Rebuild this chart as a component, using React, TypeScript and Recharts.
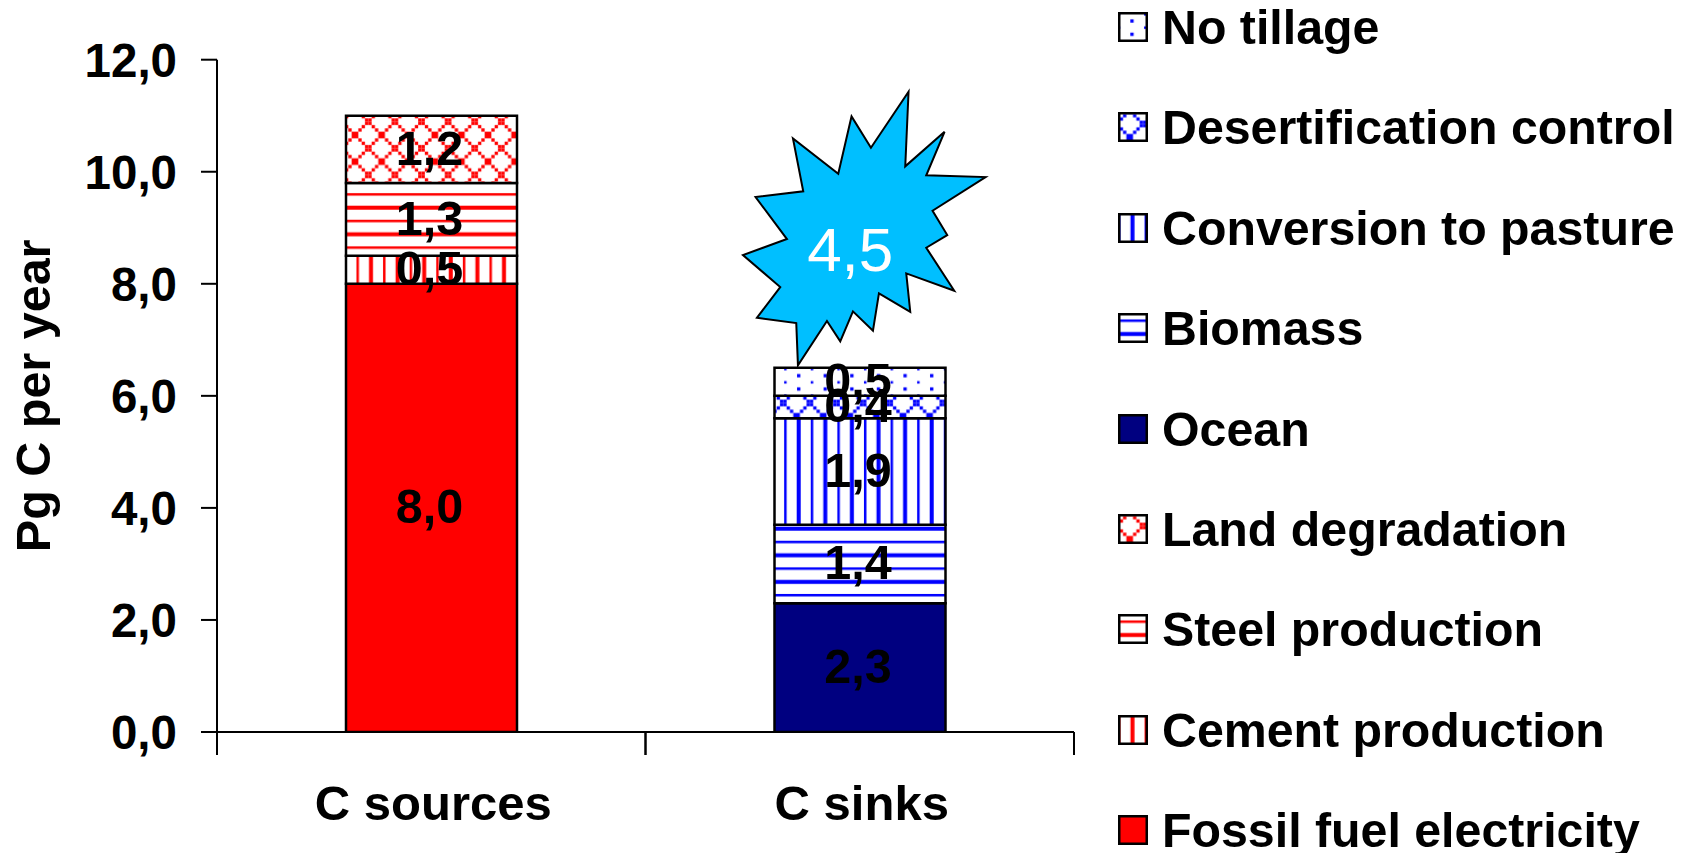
import React from 'react';
import { BarChart, Bar, XAxis, YAxis, Legend, LabelList, ReferenceDot } from 'recharts';

const categories = ['C sources', 'C sinks'];
const fossilFuel = [8.0, null];
const cement = [0.5, null];
const steel = [1.3, null];
const landDegradation = [1.2, null];
const ocean = [null, 2.3];
const biomass = [null, 1.4];
const pasture = [null, 1.9];
const desertification = [null, 0.4];
const noTillage = [null, 0.5];
const yTicks = [0, 2, 4, 6, 8, 10, 12];
const burstValue = '4,5';

const FONT = '"Liberation Sans", Arial, sans-serif';
const RED = '#ff0000';
const BLUE = '#0000ff';
const NAVY = '#000080';
const SKY = '#00bfff';
const TILE = 26.6;

// Corners of the annotation burst, relative to its anchor point.
const burstOutline: [number, number][] = [
  [48.8, -157.3], [45.5, -82.7], [84.8, -117.3], [66.5, -73.7], [125.8, -72], [72.8, -38.3],
  [87.5, -14], [66.5, -1.3], [94.5, 41.7], [46.5, 24.3], [50.5, 62.7], [19.2, 44.3],
  [13.2, 81.7], [-6.8, 62.3], [-19.5, 92.3], [-32.8, 72], [-61.8, 116.3], [-63.5, 74],
  [-102.8, 68.7], [-79.5, 38], [-116.8, 6], [-72.8, -10], [-104.2, -52], [-56.5, -57.7],
  [-66.8, -110.7], [-21.5, -75.3], [-8.2, -132.7], [11.2, -101.3],
];

type Kind = 'solid' | 'vertical' | 'horizontal' | 'diamond' | 'dots';

type Series = {
  key: string;
  name: string;
  values: (number | null)[];
  kind: Kind;
  color: string;
  origin: [number, number];
  legendOrigin: [number, number];
};

// Listed bottom of the stack first; the legend reads top-down in the opposite order.
const seriesList: Series[] = [
  { key: 'fossil', name: 'Fossil fuel electricity', values: fossilFuel, kind: 'solid', color: RED, origin: [0, 0], legendOrigin: [0, 0] },
  { key: 'cement', name: 'Cement production', values: cement, kind: 'vertical', color: RED, origin: [371, 0], legendOrigin: [14.5, 0] },
  { key: 'steel', name: 'Steel production', values: steel, kind: 'horizontal', color: RED, origin: [0, 207.7], legendOrigin: [0, 21] },
  { key: 'land', name: 'Land degradation', values: landDegradation, kind: 'diamond', color: RED, origin: [368.3, 121.7], legendOrigin: [25, 12] },
  { key: 'ocean', name: 'Ocean', values: ocean, kind: 'solid', color: NAVY, origin: [0, 0], legendOrigin: [0, 0] },
  { key: 'biomass', name: 'Biomass', values: biomass, kind: 'horizontal', color: BLUE, origin: [0, 528.7], legendOrigin: [0, 21] },
  { key: 'pasture', name: 'Conversion to pasture', values: pasture, kind: 'vertical', color: BLUE, origin: [798.7, 0], legendOrigin: [14.5, 0] },
  { key: 'desert', name: 'Desertification control', values: desertification, kind: 'diamond', color: BLUE, origin: [783.3, 403], legendOrigin: [25, 12] },
  { key: 'notill', name: 'No tillage', values: noTillage, kind: 'dots', color: BLUE, origin: [798.7, 375.7], legendOrigin: [14, 9] },
];

const chartData = categories.map((category, i) => {
  const row: Record<string, string | number | null> = { category };
  seriesList.forEach((s) => {
    row[s.key] = s.values[i];
  });
  return row;
});

// Two-weight line and pixel fills, built on a repeating 26.6px tile.
function PatternDef({ id, kind, color, origin }: { id: string; kind: Kind; color: string; origin: [number, number] }) {
  if (kind === 'solid') return null;
  const px = TILE / 8;
  let body: React.ReactNode = null;
  let x = 0;
  let y = 0;
  if (kind === 'vertical') {
    x = origin[0] - TILE / 4;
    body = (
      <>
        <rect x={TILE / 4 - 2} y={0} width={4} height={TILE} fill={color} />
        <rect x={(3 * TILE) / 4 - 1.25} y={0} width={2.5} height={TILE} fill={color} />
      </>
    );
  } else if (kind === 'horizontal') {
    y = origin[1] - TILE / 4;
    body = (
      <>
        <rect x={0} y={TILE / 4 - 2} width={TILE} height={4} fill={color} />
        <rect x={0} y={(3 * TILE) / 4 - 1.25} width={TILE} height={2.5} fill={color} />
      </>
    );
  } else if (kind === 'diamond') {
    x = origin[0] - TILE / 2;
    y = origin[1] - TILE / 2;
    const steps = [0, 1, 2, 3, 4, 5, 6, 7];
    body = (
      <>
        {steps.map((i) => (
          <rect key={`a${i}`} x={i * px} y={i * px} width={px} height={px} fill={color} />
        ))}
        {steps.map((i) => (
          <rect key={`b${i}`} x={(7 - i) * px} y={i * px} width={px} height={px} fill={color} />
        ))}
      </>
    );
  } else {
    x = origin[0] - TILE / 4;
    y = origin[1] - 5;
    const big = px;
    const small = 2.5;
    body = (
      <>
        <rect x={TILE / 4 - big / 2} y={5 - big / 2} width={big} height={big} fill={color} />
        <rect x={TILE / 4 - big / 2} y={18.3 - big / 2} width={big} height={big} fill={color} />
        <rect x={(3 * TILE) / 4 - small / 2} y={11.65 - small / 2} width={small} height={small} fill={color} />
        <rect x={(3 * TILE) / 4 - small / 2} y={24.95 - small / 2} width={small} height={small} fill={color} />
      </>
    );
  }
  return (
    <pattern id={id} patternUnits="userSpaceOnUse" x={x} y={y} width={TILE} height={TILE}>
      <rect width={TILE} height={TILE} fill="#ffffff" />
      {body}
    </pattern>
  );
}

const fillFor = (s: Series, prefix: string) => (s.kind === 'solid' ? s.color : `url(#${prefix}-${s.key})`);

// Legend rows, stacked from the top of the page with the last series first.
function LegendBlock() {
  const rows = [...seriesList].reverse();
  return (
    <div style={{ position: 'absolute', left: 0, top: 0, width: 578 }}>
      {rows.map((s, i) => (
        <div
          key={s.key}
          style={{
            position: 'absolute',
            left: 0,
            top: 100.4 * i,
            height: 60,
            display: 'flex',
            alignItems: 'center',
            whiteSpace: 'nowrap',
            fontFamily: FONT,
            fontWeight: 700,
            fontSize: 48.3,
            color: '#000',
          }}
        >
          <svg width={30} height={30} style={{ marginRight: 14, flex: 'none' }}>
            <defs>
              <PatternDef id={`legend-${s.key}`} kind={s.kind} color={s.color} origin={s.legendOrigin} />
            </defs>
            <rect x={1.25} y={1.25} width={27.5} height={27.5} fill={fillFor(s, 'legend')} stroke="#000" strokeWidth={2.5} />
          </svg>
          <span>{s.name}</span>
        </div>
      ))}
    </div>
  );
}

function CategoryTick(props: any) {
  const { x, y, payload } = props;
  const half = 214.25;
  return (
    <g>
      <line x1={x - half} y1={y - 8} x2={x - half} y2={y + 15} stroke="#000" strokeWidth={2} />
      <line x1={x + half} y1={y - 8} x2={x + half} y2={y + 15} stroke="#000" strokeWidth={2} />
      <text x={x + 2} y={820} textAnchor="middle" fontFamily={FONT} fontWeight={700} fontSize={49} fill="#000">
        {payload.value}
      </text>
    </g>
  );
}

function Burst(props: any) {
  const { cx, cy } = props;
  const points = burstOutline.map(([dx, dy]) => `${cx + dx},${cy + dy}`).join(' ');
  return (
    <g>
      <polygon points={points} fill={SKY} stroke="#000" strokeWidth={2} strokeLinejoin="miter" />
      <text x={cx - 9.5} y={cy + 22} textAnchor="middle" fontFamily={FONT} fontSize={62} fill="#fff">
        {burstValue}
      </text>
    </g>
  );
}

const commaValue = (v: unknown) => (v == null ? '' : Number(v).toFixed(1).replace('.', ','));

export default function App() {
  return (
    <div style={{ position: 'absolute', left: 0, top: 0, width: 1696, height: 853, background: '#fff' }}>
      <BarChart
        width={1696}
        height={853}
        data={chartData}
        margin={{ top: 59.7, right: 622, bottom: 0, left: 0 }}
        barSize={171}
      >
        <defs>
          {seriesList.map((s) => (
            <PatternDef key={s.key} id={`bar-${s.key}`} kind={s.kind} color={s.color} origin={s.origin} />
          ))}
        </defs>
        <XAxis
          dataKey="category"
          axisLine={{ stroke: '#000', strokeWidth: 2 }}
          tickLine={false}
          interval={0}
          tick={<CategoryTick />}
          height={121}
        />
        <YAxis
          domain={[0, 12]}
          ticks={yTicks}
          width={217}
          allowDataOverflow
          tickFormatter={commaValue}
          axisLine={{ stroke: '#000', strokeWidth: 2 }}
          tickLine={{ stroke: '#000', strokeWidth: 2 }}
          tickSize={16}
          tickMargin={24}
          tick={{ fontFamily: FONT, fontWeight: 700, fontSize: 47.5, fill: '#000' }}
          label={{
            value: 'Pg C per year',
            angle: -90,
            position: 'insideLeft',
            offset: 0,
            dx: 33,
            style: { fontFamily: FONT, fontWeight: 700, fontSize: 48.5, fill: '#000', textAnchor: 'middle' },
          }}
        />
        <Legend
          layout="horizontal"
          align="center"
          verticalAlign="middle"
          itemSorter={null}
          wrapperStyle={{ position: 'absolute', left: 1118, top: -3, width: 578, height: 0 }}
          content={<LegendBlock />}
        />
        {seriesList.map((s) => (
          <Bar
            key={s.key}
            dataKey={s.key}
            name={s.name}
            stackId="budget"
            fill={fillFor(s, 'bar')}
            stroke="#000"
            strokeWidth={2.5}
            isAnimationActive={false}
          >
            <LabelList
              dataKey={s.key}
              position="center"
              formatter={commaValue}
              dx={-2}
              dy={-2}
              style={{ fontFamily: FONT, fontWeight: 700, fontSize: 48.5, fill: '#000' }}
            />
          </Bar>
        ))}
        <ReferenceDot x="C sinks" y={8.62} ifOverflow="visible" shape={<Burst />} />
      </BarChart>
    </div>
  );
}
